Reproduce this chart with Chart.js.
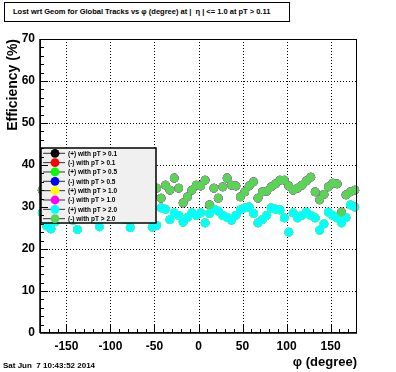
<!DOCTYPE html>
<html>
<head>
<meta charset="utf-8">
<script src="https://cdn.jsdelivr.net/npm/chart.js@4.4.1/dist/chart.umd.min.js"></script>
<style>
  body { margin: 0; background: #fff; }
  #wrap { position: relative; width: 396px; height: 372px; font-family: "Liberation Sans", Arial, sans-serif; }
  #c { position: absolute; left: 0; top: 0; }
  #title { position: absolute; left: 4px; top: 2px; width: 276px; height: 18px; border: 1px solid #000; background: #fff;
           font-size: 7.5px; font-weight: bold; line-height: 18px; padding-left: 8px; box-sizing: content-box; white-space: pre; }
  #stamp { position: absolute; left: 3px; top: 361px; font-size: 8px; font-weight: bold; white-space: pre; }
</style>
</head>
<body>
<div id="wrap">
  <canvas id="c" width="396" height="372"></canvas>
  <div id="title">Lost wrt Geom for Global Tracks vs φ (degree) at |  η | &lt;= 1.0 at pT &gt; 0.11</div>
  <div id="stamp">Sat Jun  7 10:43:52 2014</div>
</div>
<script>
// efficacite vs phi, bins de 5 degres
const phiCenters = [
  -177.5, -172.5, -167.5, -162.5, -157.5, -152.5, -147.5, -142.5, -137.5, -132.5, -127.5, -122.5,
  -117.5, -112.5, -107.5, -102.5, -97.5, -92.5, -87.5, -82.5, -77.5, -72.5, -67.5, -62.5,
  -57.5, -52.5, -47.5, -42.5, -37.5, -32.5, -27.5, -22.5, -17.5, -12.5, -7.5, -2.5,
  2.5, 7.5, 12.5, 17.5, 22.5, 27.5, 32.5, 37.5, 42.5, 47.5, 52.5, 57.5,
  62.5, 67.5, 72.5, 77.5, 82.5, 87.5, 92.5, 97.5, 102.5, 107.5, 112.5, 117.5,
  122.5, 127.5, 132.5, 137.5, 142.5, 147.5, 152.5, 157.5, 162.5, 167.5, 172.5, 177.5
];
// (+) tracks
const plusEff = [
  28.6, 25.5, 24.8, 26.5, 28.5, 29.0, 28.0, 26.8, 24.6, 27.5, 29.0, 28.2,
  27.0, 25.3, 27.8, 29.2, 28.4, 27.5, 28.8, 27.0, 25.1, 27.6, 29.0, 28.3,
  27.4, 25.2, 25.6, 29.8, 29.5, 27.0, 28.6, 28.0, 26.4, 27.5, 28.6, 28.0,
  28.6, 26.2, 28.5, 29.5, 29.0, 28.0, 27.5, 26.9, 28.0, 29.3, 29.8, 30.0,
  28.5, 26.2, 27.0, 28.0, 29.8, 29.5, 29.3, 27.4, 24.0, 28.6, 27.4, 28.0,
  28.8, 28.0, 27.4, 24.5, 26.0, 28.8, 28.0, 27.4, 26.2, 27.5, 30.5, 30.0
];
// (-) tracks
const minusEff = [
  34.0, 33.0, 31.5, 34.5, 33.0, 35.0, 32.5, 34.0, 36.0, 33.5, 31.8, 34.6,
  35.5, 33.0, 32.0, 34.8, 36.2, 33.4, 32.6, 35.0, 34.0, 31.6, 33.8, 35.4,
  34.2, 32.8, 34.5, 32.1, 35.2, 34.0, 36.9, 34.5, 31.0, 32.4, 34.0, 35.2,
  35.0, 36.4, 30.5, 34.5, 32.1, 34.8, 36.9, 35.2, 35.0, 32.4, 33.6, 35.0,
  36.0, 32.1, 33.6, 33.8, 34.8, 35.5, 36.4, 36.4, 35.0, 34.0, 34.5, 35.2,
  36.2, 37.1, 33.6, 31.7, 33.0, 34.8, 35.7, 35.5, 28.8, 32.9, 33.6, 34.0
];
const seriesLabels = [
  '(+) with pT > 0.1', '(-) with pT > 0.1', '(+) with pT > 0.5', '(-) with pT > 0.5',
  '(+) with pT > 1.0', '(-) with pT > 1.0', '(+) with pT > 2.0', '(-) with pT > 2.0'
];
const seriesColors = ['#000000', '#ff0000', '#00ff00', '#0000ff', '#ffff00', '#ff00ff', '#00ffff', '#59d454'];
const xTickVals = [-150, -100, -50, 0, 50, 100, 150];
const yTickVals = [0, 10, 20, 30, 40, 50, 60, 70];

const FONT = '"Liberation Sans", Arial, sans-serif';

const datasets = seriesLabels.map((lab, i) => {
  const vals = lab.startsWith('(+)') ? plusEff : minusEff;
  return {
    label: lab,
    data: phiCenters.map((p, k) => ({ x: p, y: vals[k] })),
    showLine: false,
    pointRadius: 4.4,
    pointBorderWidth: 0,
    pointBackgroundColor: seriesColors[i],
    pointBorderColor: seriesColors[i],
    clip: false,
    order: seriesLabels.length - i   // order bas = dessine au-dessus
  };
});

// grille pointillee, cadre, graduations internes, legende ROOT
const rootStyle = {
  id: 'rootStyle',
  beforeDatasetsDraw(chart) {
    const { ctx, chartArea: a, scales: { x, y } } = chart;
    ctx.save();
    ctx.strokeStyle = '#000';
    ctx.lineWidth = 1;
    ctx.setLineDash([1, 2]);
    xTickVals.forEach(v => {
      const px = Math.round(x.getPixelForValue(v)) + 0.5;
      ctx.beginPath(); ctx.moveTo(px, a.top); ctx.lineTo(px, a.bottom); ctx.stroke();
    });
    yTickVals.slice(1, -1).forEach(v => {
      const py = Math.round(y.getPixelForValue(v)) + 0.5;
      ctx.beginPath(); ctx.moveTo(a.left, py); ctx.lineTo(a.right, py); ctx.stroke();
    });
    ctx.restore();
  },
  afterDatasetsDraw(chart) {
    const { ctx } = chart;
    const lx = 41, ly = 148, lw = 115, lh = 75;
    ctx.save();
    ctx.fillStyle = '#f0f0f0';
    ctx.fillRect(lx, ly, lw, lh);
    ctx.strokeStyle = '#000';
    ctx.lineWidth = 1.5;
    ctx.strokeRect(lx, ly, lw, lh);
    ctx.font = 'bold 6.5px ' + FONT;
    ctx.textBaseline = 'middle';
    chart.data.datasets.forEach((ds, i) => {
      const cy = 153.3 + i * 9.34;
      ctx.strokeStyle = '#333';
      ctx.lineWidth = 1;
      ctx.beginPath(); ctx.moveTo(lx + 2, cy); ctx.lineTo(lx + 24, cy); ctx.stroke();
      ctx.fillStyle = ds.pointBackgroundColor;
      ctx.beginPath(); ctx.arc(lx + 14, cy, 4.4, 0, Math.PI * 2); ctx.fill();
      ctx.fillStyle = '#000';
      ctx.fillText(ds.label, lx + 27, cy + 0.5);
    });
    ctx.restore();
  },
  afterDraw(chart) {
    const { ctx, chartArea: a, scales: { x, y } } = chart;
    ctx.save();
    ctx.strokeStyle = '#000';
    ctx.lineWidth = 1;
    ctx.strokeRect(a.left + 0.5, a.top + 0.5, a.right - a.left - 1, a.bottom - a.top - 1);
    ctx.lineWidth = 1.5;
    ctx.beginPath();
    ctx.moveTo(a.left, a.bottom); ctx.lineTo(a.right, a.bottom);
    ctx.moveTo(a.left, a.top); ctx.lineTo(a.left, a.bottom);
    ctx.stroke();
    ctx.lineWidth = 1;
    for (let v = -170; v <= 170; v += 10) {
      const px = Math.round(x.getPixelForValue(v)) + 0.5;
      const len = v % 50 === 0 ? 8 : 4;
      ctx.beginPath(); ctx.moveTo(px, a.bottom); ctx.lineTo(px, a.bottom - len); ctx.stroke();
    }
    for (let v = 2; v < 70; v += 2) {
      const py = Math.round(y.getPixelForValue(v)) + 0.5;
      const len = v % 10 === 0 ? 8 : 4;
      ctx.beginPath(); ctx.moveTo(a.left, py); ctx.lineTo(a.left + len, py); ctx.stroke();
    }
    ctx.restore();
  }
};

new Chart(document.getElementById('c'), {
  type: 'line',
  data: { datasets },
  plugins: [rootStyle],
  options: {
    responsive: false,
    animation: false,
    devicePixelRatio: 1,
    layout: { padding: { top: 39, right: 39, left: 0, bottom: 0 } },
    plugins: { legend: { display: false }, tooltip: { enabled: false }, title: { display: false } },
    scales: {
      x: {
        type: 'linear', min: -180, max: 180,
        afterFit: s => { s.height = 39; },
        afterBuildTicks: s => { s.ticks = xTickVals.map(v => ({ value: v })); },
        grid: { display: false, drawTicks: false },
        border: { display: false },
        ticks: { color: '#000', padding: 6, font: { family: FONT, size: 12, weight: 'bold' }, maxRotation: 0 },
        title: { display: true, text: 'φ (degree)', align: 'end', color: '#000',
                 font: { family: FONT, size: 13, weight: 'bold' }, padding: { top: 0, bottom: 2 } }
      },
      y: {
        type: 'linear', min: 0, max: 70,
        afterFit: s => { s.width = 40; },
        afterBuildTicks: s => { s.ticks = yTickVals.map(v => ({ value: v })); },
        grid: { display: false, drawTicks: false },
        border: { display: false },
        ticks: { color: '#000', padding: 5, font: { family: FONT, size: 12, weight: 'bold' } },
        title: { display: true, text: 'Efficiency (%)', align: 'end', color: '#000',
                 font: { family: FONT, size: 14, weight: 'bold' }, padding: { top: 5, bottom: 0 } }
      }
    }
  }
});
</script>
</body>
</html>
